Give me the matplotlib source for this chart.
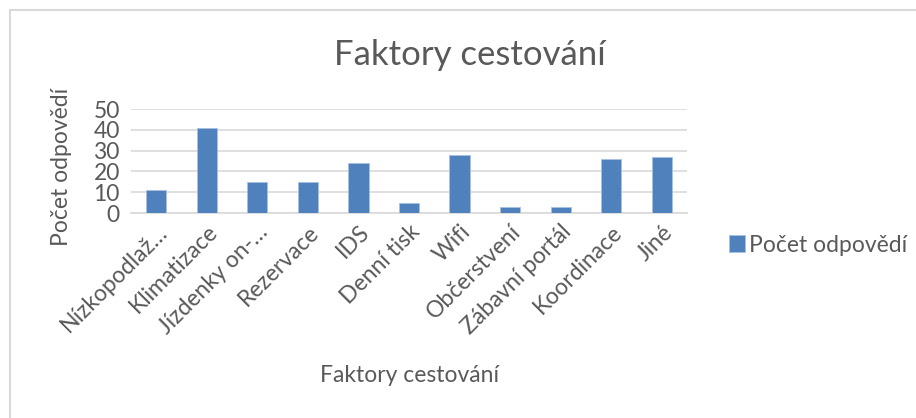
import matplotlib.pyplot as plt
from matplotlib.patches import Rectangle

plt.rcParams['font.family'] = ['Lato', 'DejaVu Sans']

categories = ["Nízkopodlaž…", "Klimatizace", "Jízdenky on-…", "Rezervace", "IDS",
              "Denní tisk", "Wifi", "Občerstvení", "Zábavní portál", "Koordinace", "Jiné"]
values = [11, 41, 15, 15, 24, 5, 28, 3, 3, 26, 27]
series_name = "Počet odpovědí"

gray = "#595959"
blue = "#4f81bd"

fig = plt.figure(figsize=(9.16, 4.18), dpi=100)
ax = fig.add_axes([131/916, 1 - 213/418, (687 - 131)/916, (213 - 109)/418])

# chart border (only top and left are visible in the original)
fig.patches.append(Rectangle((10/916, -0.1), 1.2, 1 - 10/418 + 0.1, transform=fig.transFigure,
                             fill=False, edgecolor="#d9d9d9", linewidth=1.5))

x = range(len(categories))
ax.bar(x, values, width=0.4, color=blue, edgecolor="#a9c1e0", linewidth=0.6,
       label=series_name, zorder=3)

ax.set_xlim(-0.5, len(categories) - 0.5)
ax.set_ylim(0, 50)
ax.set_yticks(range(0, 51, 10))
ax.yaxis.grid(True, color="#d9d9d9", linewidth=1.2, zorder=0)
for s in ["top", "right", "left"]:
    ax.spines[s].set_visible(False)
ax.spines["bottom"].set_color("#d9d9d9")
ax.spines["bottom"].set_linewidth(1.2)
ax.tick_params(axis="both", length=0, labelsize=16.5, labelcolor=gray)
ax.tick_params(axis="y", pad=8)
ax.tick_params(axis="x", pad=6)
ax.set_xticks(list(x))
ax.set_xticklabels(categories, rotation=45, ha="right", rotation_mode="anchor")

fig.text(470/916, 1 - 55/418, "Faktory cestování", ha="center", va="center",
         fontsize=25, color=gray)
fig.text(410/916, 1 - 376/418, "Faktory cestování", ha="center", va="center",
         fontsize=16.5, color=gray)
fig.text(62/916, 1 - 167/418, "Počet odpovědí", ha="center", va="center",
         rotation=90, fontsize=16.5, color=gray)

ax.legend(loc="center left", bbox_to_anchor=(708/916, 1 - 245/418),
          bbox_transform=fig.transFigure, frameon=False, fontsize=16.5,
          labelcolor=gray, handlelength=0.7, handleheight=0.7, handletextpad=0.2)

fig.savefig("out.png", dpi=100, facecolor="white")
